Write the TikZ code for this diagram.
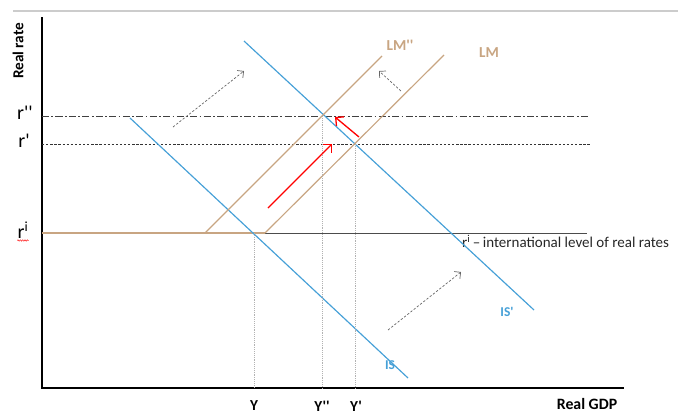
\documentclass[tikz,border=0pt]{standalone}
\usepackage{fontspec}
\setmainfont{Carlito}[Ligatures=TeXOff]
\usetikzlibrary{arrows.meta,positioning,calc,decorations.pathmorphing}
\definecolor{isblue}{RGB}{70,160,215}
\definecolor{lmtan}{RGB}{200,165,130}

\begin{document}
\begin{tikzpicture}[
  x=0.03cm, y=-0.03cm,
  axis/.style={line width=1.6pt, black},
  isline/.style={isblue, line width=1pt},
  lmline/.style={lmtan, line width=1pt},
  guide/.style={black!30, densely dotted, line width=0.6pt},
  shiftarrow/.style={-{Straight Barb[length=4pt]}, black!60, dash pattern=on 2pt off 1.5pt, line width=0.6pt},
  movearrow/.style={-{Straight Barb[length=5pt]}, red, line width=1.1pt},
  ticklabel/.style={font=\fontsize{17}{17}\selectfont, inner sep=0pt},
  axlabel/.style={font=\fontsize{13}{14}\selectfont\bfseries, inner sep=0pt},
  curvelabel/.style={font=\fontsize{13}{14}\selectfont\bfseries, inner sep=0pt}
]
\useasboundingbox (0,0) rectangle (678,414);

% -------- Frame and axes --------
\draw[black!20, line width=2pt] (13,11) -- (678,11);
\coordinate (top) at (42,17);
\coordinate (O) at (42,388);
\coordinate (right) at (624,388);
\draw[axis] (top) -- (O) -- (right);

\node[axlabel, rotate=90] (rlab) at (18,51) {Real rate};
\node[axlabel, font=\fontsize{13.5}{14}\selectfont\bfseries] (gdplab) at (587,404) {Real GDP};

% -------- Rate levels --------
\node[ticklabel] (rpp) at (25,113) {r''};
\node[ticklabel] (rp)  at (24,141) {r'};
\node[ticklabel] (ri)  at (23,230) {r\textsuperscript{i}};
\draw[red!80, line width=0.5pt, decorate, decoration={zigzag, amplitude=0.6pt, segment length=2pt}]
  ([yshift=-1.5pt]ri.south west) -- ([yshift=-1.5pt]ri.south east);

\coordinate (rpp-end) at (590,116);
\coordinate (rp-end)  at (590,144);
\coordinate (ri-mid)  at (265,233);
\coordinate (ri-end)  at (587,233);

\draw[black!75, line width=0.7pt, dash pattern=on 6pt off 2pt on 1.5pt off 2pt] (42,116) -- (rpp-end);
\draw[black!80, line width=0.8pt, dash pattern=on 2pt off 1.5pt] (42,144) -- (rp-end);
\draw[lmline] (42,233) -- (ri-mid);
\draw[black!70, line width=0.7pt] (ri-mid) -- (ri-end);

\node[font=\fontsize{12.8}{13}\selectfont, anchor=west, inner sep=0pt, black!85] (rilab) at (462,241)
{r\textsuperscript{i}\,\textendash\,international level of real rates};

% -------- IS curves --------
\coordinate (is-a)  at (130,118);
\coordinate (is-b)  at (408,378);
\coordinate (isp-a) at (244,41);
\coordinate (isp-b) at (534,310);
\draw[isline] (is-a) -- (is-b);
\draw[isline] (isp-a) -- (isp-b);
\node[curvelabel, isblue, font=\fontsize{11.5}{12}\selectfont\bfseries] (islab)  at (390,365) {IS};
\node[curvelabel, isblue, font=\fontsize{11.5}{12}\selectfont\bfseries] (isplab) at (507,312) {IS'};

% -------- LM curves --------
\coordinate (lm-b)   at (444,55);
\coordinate (lmpp-a) at (205,233);
\coordinate (lmpp-b) at (382,56);
\draw[lmline] (ri-mid) -- (lm-b);
\draw[lmline] (lmpp-a) -- (lmpp-b);
\node[curvelabel, lmtan] (lmlab)   at (489,53) {LM};
\node[curvelabel, lmtan] (lmpplab) at (400,45) {LM''};

% -------- Equilibria and output levels --------
\coordinate (E1) at (254,233);
\coordinate (E2) at (355,144);
\coordinate (E3) at (322,116);
\draw[guide] (E1) -- (E1 |- O);
\draw[guide] (E2) -- (E2 |- O);
\draw[guide] (E3) -- (E3 |- O);
\node[axlabel] (y1) at (254,406) {Y};
\node[axlabel] (y3) at (322,406) {Y''};
\node[axlabel] (y2) at (356,406) {Y'};

% -------- Shifts --------
\coordinate (s1a) at (173,127); \coordinate (s1b) at (244,71);
\coordinate (s2a) at (401,91);  \coordinate (s2b) at (379,71);
\coordinate (s3a) at (388,330); \coordinate (s3b) at (461,272);
\draw[shiftarrow] (s1a) -- (s1b);
\draw[shiftarrow] (s2a) -- (s2b);
\draw[shiftarrow] (s3a) -- (s3b);

\coordinate (m1a) at (268,208); \coordinate (m1b) at (332,144);
\coordinate (m2a) at (359,137); \coordinate (m2b) at (335,117);
\draw[movearrow] (m1a) -- (m1b);
\draw[movearrow] (m2a) -- (m2b);

\end{tikzpicture}
\end{document}
